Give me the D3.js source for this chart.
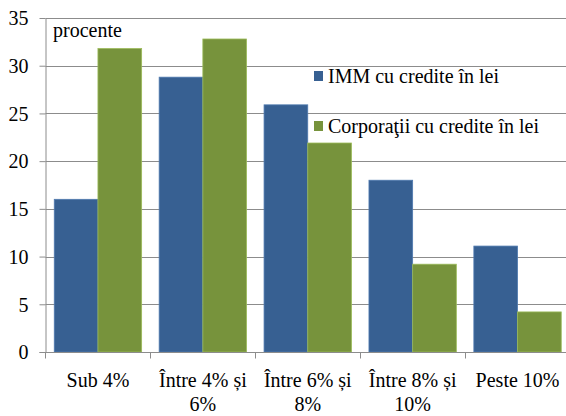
<!DOCTYPE html>
<html>
<head>
<meta charset="utf-8">
<script src="https://cdn.jsdelivr.net/npm/d3@7"></script>
<style>
  body { margin: 0; background: #fff; }
  svg text { font-family: 'Liberation Serif', serif; }
</style>
</head>
<body>
<svg id="chart" width="566" height="416">
<text id="unit" x="53" y="37" style="font-family:'Liberation Serif';font-size:20px">procente</text>
</svg>
<script>
const categories = [["Sub 4%"], ["Între 4% și", "6%"], ["Între 6% și", "8%"], ["Între 8% și", "10%"], ["Peste 10%"]];
const seriesNames = ["IMM cu credite în lei", "Corporaţii cu credite în lei"];
const imm = [16, 28.8, 25.9, 18, 11.1];
const corporatii = [31.8, 32.8, 21.9, 9.2, 4.2];
const yTicks = [0, 5, 10, 15, 20, 25, 30, 35];
const colors = ["#376092", "#77933c"];
const borders = ["#4f7ab0", "#9bbb59"];

const width = 566, height = 416;
const margin = { top: 18, right: -4, bottom: 64, left: 45.5 };
const textStyle = "font-family:'Liberation Serif';font-size:20px;fill:#000";

const svg = d3.select('#chart');

const x0 = d3.scaleBand()
  .domain(d3.range(categories.length))
  .range([margin.left, width - margin.right])
  .paddingInner(0.167)
  .paddingOuter(0.0835);

const x1 = d3.scaleBand()
  .domain([0, 1])
  .range([0, x0.bandwidth()]);

const y = d3.scaleLinear()
  .domain([0, 35])
  .range([height - margin.bottom, margin.top]);

// gridlines
svg.insert('g', '#unit').selectAll('line')
  .data(yTicks.slice(1))
  .enter().append('line')
  .attr('x1', margin.left).attr('x2', width)
  .attr('y1', d => Math.round(y(d)) + 0.5).attr('y2', d => Math.round(y(d)) + 0.5)
  .style('stroke', '#8c8c8c');

// y axis
const yAxis = svg.append('g')
  .attr('transform', `translate(${Math.round(margin.left) - 0.5},0)`)
  .call(d3.axisLeft(y).tickValues(yTicks).tickSize(6).tickSizeOuter(0))
  .attr('font-family', null)
  .attr('font-size', null);
yAxis.select('.domain').style('stroke', '#8c8c8c');
yAxis.selectAll('.tick line').style('stroke', '#8c8c8c');
yAxis.selectAll('.tick text')
  .attr('x', -17)
  .attr('dy', '0.34em')
  .attr('style', textStyle);

// bars
const data = categories.map((c, i) => [imm[i], corporatii[i]]);
const group = svg.selectAll('.group')
  .data(data)
  .enter().append('g')
  .attr('class', 'group')
  .attr('transform', (d, i) => `translate(${x0(i)},0)`);

group.selectAll('rect')
  .data(d => d)
  .enter().append('rect')
  .attr('x', (d, j) => x1(j))
  .attr('y', d => y(d))
  .attr('width', x1.bandwidth())
  .attr('height', d => y(0) - y(d))
  .style('fill', (d, j) => colors[j])
  .style('stroke', (d, j) => borders[j])
  .style('stroke-width', 0.8);

// x axis
const step = x0.step();
const xBase = Math.round(y(0)) + 0.5;
svg.append('line')
  .attr('x1', margin.left - 6).attr('x2', width)
  .attr('y1', xBase).attr('y2', xBase)
  .style('stroke', '#8c8c8c');
svg.selectAll('.xtick')
  .data(d3.range(categories.length + 1))
  .enter().append('line')
  .attr('class', 'xtick')
  .attr('x1', i => Math.round(x0(0) - step * 0.0835 + i * step) + 0.5)
  .attr('x2', i => Math.round(x0(0) - step * 0.0835 + i * step) + 0.5)
  .attr('y1', xBase).attr('y2', xBase + 6)
  .style('stroke', '#8c8c8c');

svg.selectAll('.xlabel')
  .data(categories)
  .enter().append('text')
  .attr('class', 'xlabel')
  .attr('text-anchor', 'middle')
  .attr('style', textStyle)
  .attr('transform', (d, i) => `translate(${x0(i) + x0.bandwidth() / 2},387)`)
  .selectAll('tspan')
  .data(d => d)
  .enter().append('tspan')
  .attr('x', 0)
  .attr('dy', (d, k) => k === 0 ? 0 : 24)
  .text(d => d);

// legend
const legend = svg.selectAll('.legend')
  .data(seriesNames)
  .enter().append('g')
  .attr('class', 'legend')
  .attr('transform', (d, i) => `translate(314,${71 + i * 50})`);
legend.append('rect')
  .attr('width', 9).attr('height', 10)
  .style('fill', (d, i) => colors[i]);
legend.append('text')
  .attr('x', 14).attr('y', 12)
  .attr('style', textStyle)
  .text(d => d);
</script>
</body>
</html>
